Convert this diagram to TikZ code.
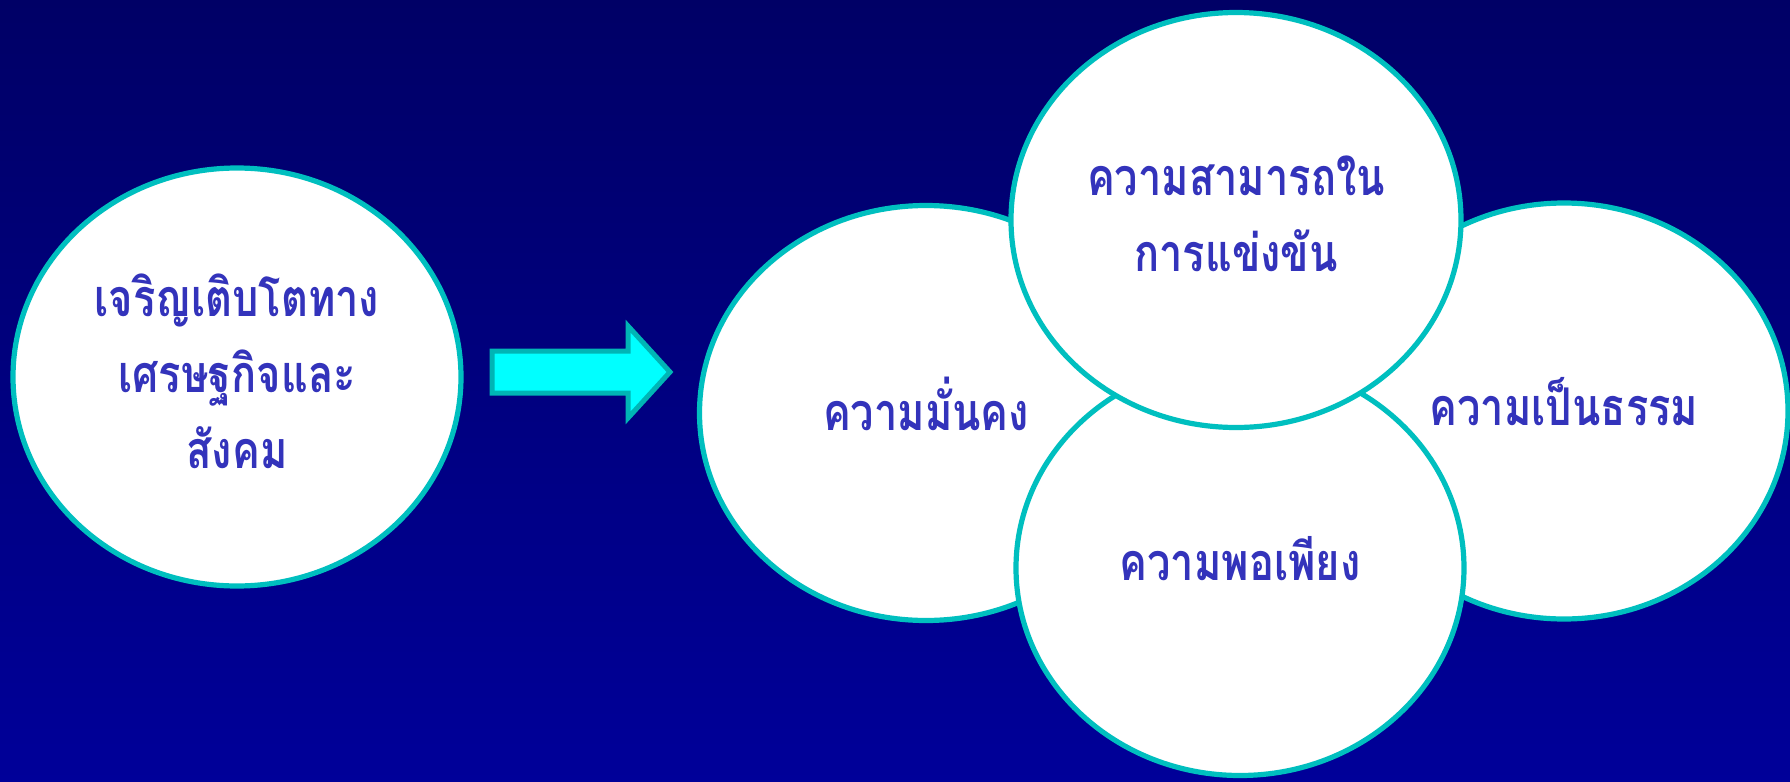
\documentclass[tikz,border=0pt]{standalone}
\usepackage{fontspec}
\newfontfamily\thaifont[Script=Thai,FakeStretch=0.8]{Loma}
\usetikzlibrary{shapes.geometric}
\definecolor{bgtop}{HTML}{000066}
\definecolor{bgbottom}{HTML}{000099}
\definecolor{rim}{HTML}{00BFBF}
\definecolor{labeltext}{HTML}{3333BB}
\definecolor{arrowfill}{HTML}{00FFFF}
\definecolor{arrowrim}{HTML}{00B5B5}
\begin{document}
\begin{tikzpicture}[x=0.5pt,y=-0.5pt,
  bubble/.style={ellipse, draw=rim, fill=white, line width=2.6pt, inner sep=0pt},
  caption/.style={text=labeltext, align=center, inner sep=0pt, yshift=3pt,
    font=\thaifont\bfseries\fontsize{26}{38}\selectfont},
  onecaption/.style={caption, yshift=1.5pt}]
  % backdrop
  \shade[top color=bgtop, bottom color=bgbottom] (0,0) rectangle (1790,782);
  \useasboundingbox (0,0) rectangle (1790,782);

  % source bubble
  \node[bubble, minimum width=224pt, minimum height=209pt] (growth) at (237,377) {};
  \node[caption] (growthtext) at (growth.center)
    {เจริญเติบโตทาง\\เศรษฐกิจและ\\สังคม};

  % block arrow
  \draw[fill=arrowfill, draw=arrowrim, line width=2.5pt, line join=miter]
    (492,351) -- (628,351) -- (628,326) -- (670,372) -- (628,418) -- (628,393)
    -- (492,393) -- cycle;

  % four overlapping bubbles, back to front
  \node[bubble, minimum width=226.5pt, minimum height=207.5pt] (stability) at (926,413) {};
  \node[onecaption] (stabilitytext) at (stability.center) {ความมั่นคง};
  \node[bubble, minimum width=224pt, minimum height=208pt] (fairness) at (1564,411) {};
  \node[onecaption] (fairnesstext) at (fairness.center) {ความเป็นธรรม};
  \node[bubble, minimum width=224pt, minimum height=207.5pt] (sufficiency) at (1240,568) {};
  \node[onecaption] (sufficiencytext) at (sufficiency.center) {ความพอเพียง};
  \node[bubble, minimum width=225pt, minimum height=207.5pt] (competitive) at (1236,220) {};
  \node[caption] (competitivetext) at (competitive.center)
    {ความสามารถใน\\การแข่งขัน};
\end{tikzpicture}
\end{document}
